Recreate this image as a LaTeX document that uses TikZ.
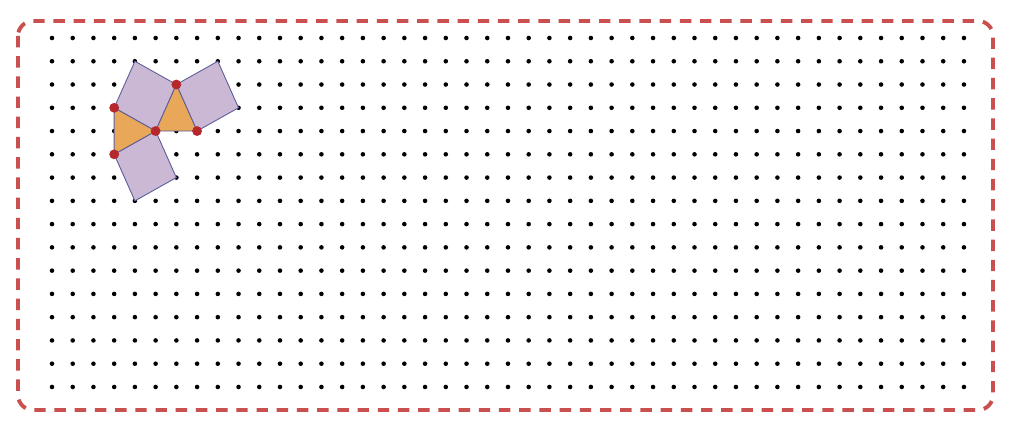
\documentclass[tikz,border=0pt]{standalone}
\usepackage{tikz}
\usetikzlibrary{positioning}
\definecolor{frame}{HTML}{C9504F}
\definecolor{lilac}{HTML}{CBB8D4}
\definecolor{amber}{HTML}{E9A75A}
\definecolor{edge}{HTML}{5B5E98}
\definecolor{pin}{HTML}{B7282C}
\tikzstyle{gridpt} = [circle, fill=black, inner sep=0pt, minimum size=2.6pt]
\tikzstyle{sq} = [draw=edge, fill=lilac, line width=0.5pt]
\tikzstyle{tri} = [draw=edge, fill=amber, line width=0.5pt]
\tikzstyle{vertex} = [circle, fill=pin, inner sep=0pt, minimum size=5.6pt]
\tikzstyle{border} = [draw=frame, line width=2.2pt, dash pattern=on 6.5pt off 5pt, rounded corners=8.5pt]

\begin{document}
\begin{tikzpicture}[x=0.02cm, y=-0.02cm]
  \useasboundingbox (0,0) rectangle (1024,431);
  \draw[border] (18,21) rectangle (993,410);
  \begin{scope}[shift={(52,38)}, x=0.4146cm, y=-0.4654cm]
    \foreach \i in {0,...,44}
      \foreach \j in {0,...,15}
        \node[gridpt] (g-\i-\j) at (\i,\j) {};
    \coordinate (A) at (3,3);
    \coordinate (B) at (3,5);
    \coordinate (C) at (5,4);
    \coordinate (D) at (6,2);
    \coordinate (E) at (7,4);
    \coordinate (P) at (4,1);
    \coordinate (Q) at (8,1);
    \coordinate (R) at (9,3);
    \coordinate (S) at (6,6);
    \coordinate (T) at (4,7);
    \filldraw[sq] (A) -- (P) -- (D) -- (C) -- cycle;
    \filldraw[sq] (D) -- (Q) -- (R) -- (E) -- cycle;
    \filldraw[sq] (B) -- (C) -- (S) -- (T) -- cycle;
    \filldraw[tri] (A) -- (B) -- (C) -- cycle;
    \filldraw[tri] (C) -- (D) -- (E) -- cycle;
    \foreach \v in {A,B,C,D,E}
      \node[vertex] (dot-\v) at (\v) {};
  \end{scope}
\end{tikzpicture}
\end{document}
